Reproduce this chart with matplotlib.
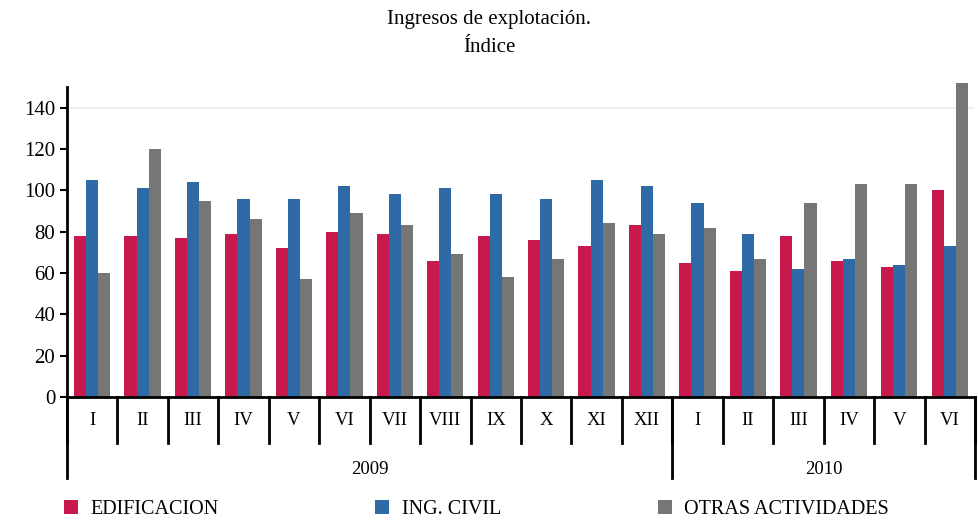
import numpy as np
import matplotlib.pyplot as plt
from matplotlib import transforms

plt.rcParams['font.family'] = ['Liberation Serif', 'DejaVu Serif']

meses = ['I', 'II', 'III', 'IV', 'V', 'VI', 'VII', 'VIII', 'IX', 'X', 'XI', 'XII',
         'I', 'II', 'III', 'IV', 'V', 'VI']
anios = ['2009', '2010']
meses_por_anio = [12, 6]

edificacion = [78, 78, 77, 79, 72, 80, 79, 66, 78, 76, 73, 83,
               65, 61, 78, 66, 63, 100]
ing_civil = [105, 101, 104, 96, 96, 102, 98, 101, 98, 96, 105, 102,
             94, 79, 62, 67, 64, 73]
otras = [60, 120, 95, 86, 57, 89, 83, 69, 58, 67, 84, 79,
         82, 67, 94, 103, 103, 152]

series = ['EDIFICACION', 'ING. CIVIL', 'OTRAS ACTIVIDADES']
colores = ['#C8194C', '#2E6BA6', '#767676']

fig = plt.figure(figsize=(9.79, 5.24), dpi=100)
ax = fig.add_axes([0.0684, 0.2424, 0.9275, 0.5916])

x = np.arange(len(meses))
w = 0.24
for i, (vals, nombre, c) in enumerate(zip([edificacion, ing_civil, otras], series, colores)):
    ax.bar(x + (i - 1) * w, vals, w, color=c, label=nombre, clip_on=False)

ax.set_xlim(-0.5, len(meses) - 0.5)
ax.set_ylim(0, 150)
ax.set_yticks(range(0, 141, 20))
ax.tick_params(axis='y', labelsize=15, length=5, width=1.5, direction='out')
ax.set_xticks([])
for s in ['top', 'right']:
    ax.spines[s].set_visible(False)
ax.spines['left'].set_linewidth(2)
ax.spines['bottom'].set_linewidth(2)
ax.axhline(140, color='#eeeeee', lw=1.5, zorder=0)

trans = transforms.blended_transform_factory(ax.transData, ax.transAxes)
# separadores de meses
for b in np.arange(-0.5, len(meses), 1.0):
    ax.plot([b, b], [0, -0.148], color='black', lw=2, transform=trans, clip_on=False)
for xi, m in zip(x, meses):
    ax.text(xi, -0.075, m, transform=trans, ha='center', va='center', fontsize=13.5)

# separadores de años
inicio = -0.5
for anio, n in zip(anios, meses_por_anio):
    ax.plot([inicio, inicio], [0, -0.262], color='black', lw=2, transform=trans, clip_on=False)
    ax.text(inicio + n / 2, -0.233, anio, transform=trans, ha='center', va='center', fontsize=13.5)
    inicio += n
ax.plot([inicio, inicio], [0, -0.262], color='black', lw=2, transform=trans, clip_on=False)

fig.text(0.5, 0.963, 'Ingresos de explotación.', ha='center', va='center', fontsize=15)
fig.text(0.5, 0.91, 'Índice', ha='center', va='center', fontsize=15)

fig.legend(loc='center left', bbox_to_anchor=(0.057, 0.027), ncol=3, frameon=False,
           fontsize=14.5, handlelength=0.7, handleheight=0.7, handletextpad=0.6,
           columnspacing=7.8, borderaxespad=0)

fig.savefig('out.png', dpi=100)
